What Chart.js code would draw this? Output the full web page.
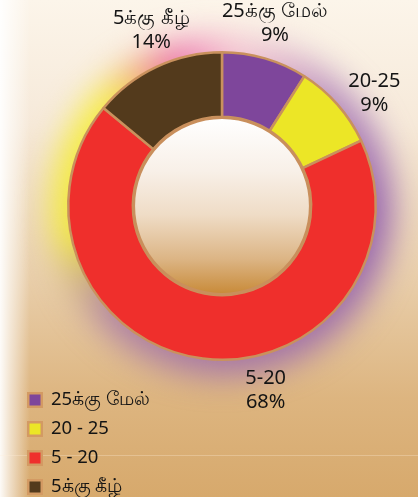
<!DOCTYPE html>
<html><head><meta charset="utf-8">
<script src="https://cdn.jsdelivr.net/npm/chart.js@4.4.1/dist/chart.umd.min.js"></script>
<style>html,body{margin:0;padding:0;background:#f3e2c9;overflow:hidden}#wrap{width:418px;height:497px;position:relative}</style>
</head><body><div id="wrap"><canvas id="c" width="418" height="497"></canvas></div>
<script>
const legendLabels = ['25க்கு மேல்', '20 - 25', '5 - 20', '5க்கு கீழ்'];
const sliceNames = ['25க்கு மேல்', '20-25', '5-20', '5க்கு கீழ்'];
const percentages = [9, 9, 68, 14];
const sliceColors = ['#7e469b', '#ece626', '#ef2f2c', '#533a1c'];

const FONT = '"Noto Sans", "Lato", sans-serif';
const labelShiftDeg = [0, 4.8, -20.5, 3.3];

const bgPlugin = {
  id: 'bg',
  beforeDraw(chart) {
    const ctx = chart.ctx, w = chart.width, h = chart.height;
    ctx.save();
    const g = ctx.createLinearGradient(0, 0, 0, h);
    g.addColorStop(0, '#fcf5ea');
    g.addColorStop(0.25, '#f6e9d9');
    g.addColorStop(0.55, '#e9cfac');
    g.addColorStop(0.8, '#ddb580');
    g.addColorStop(1, '#d7a96c');
    ctx.fillStyle = g;
    ctx.fillRect(0, 0, w, h);
    const g2 = ctx.createLinearGradient(0, 0, 30, 0);
    g2.addColorStop(0, 'rgba(255,255,255,0.95)');
    g2.addColorStop(0.35, 'rgba(255,255,255,0.6)');
    g2.addColorStop(1, 'rgba(255,255,255,0)');
    ctx.fillStyle = g2;
    ctx.fillRect(0, 0, 30, h);
    ctx.fillStyle = 'rgba(255,240,220,0.3)';
    ctx.fillRect(0, 455, w, 1);
    ctx.restore();
  }
};

const glowPlugin = {
  id: 'glow',
  beforeDatasetsDraw(chart) {
    const arc = chart.getDatasetMeta(0).data[0];
    if (!arc) return;
    const { x, y, outerRadius } = arc.getProps(['x', 'y', 'outerRadius'], true);
    const ctx = chart.ctx;
    ctx.save();
    ctx.filter = 'blur(16px)';
    const cg = ctx.createConicGradient(0, x, y);
    cg.addColorStop(0, 'rgba(150,100,175,1)');
    cg.addColorStop(0.25, 'rgba(155,105,170,0.85)');
    cg.addColorStop(0.38, 'rgba(160,110,165,0.75)');
    cg.addColorStop(0.47, 'rgba(242,234,60,1)');
    cg.addColorStop(0.62, 'rgba(246,236,70,1)');
    cg.addColorStop(0.70, 'rgba(235,110,170,1)');
    cg.addColorStop(0.77, 'rgba(240,170,200,0.55)');
    cg.addColorStop(0.87, 'rgba(165,115,180,0.75)');
    cg.addColorStop(1, 'rgba(150,100,175,1)');
    ctx.fillStyle = cg;
    ctx.beginPath();
    ctx.arc(x, y, outerRadius + 16, 0, Math.PI * 2);
    ctx.fill();
    ctx.restore();
  }
};

const centerPlugin = {
  id: 'center',
  afterDatasetsDraw(chart) {
    const arc = chart.getDatasetMeta(0).data[0];
    if (!arc) return;
    const { x, y, innerRadius } = arc.getProps(['x', 'y', 'innerRadius'], true);
    const ctx = chart.ctx;
    ctx.save();
    const r = innerRadius - 1;
    const g = ctx.createLinearGradient(0, y - r, 0, y + r);
    g.addColorStop(0, '#ffffff');
    g.addColorStop(0.3, '#f8f0e8');
    g.addColorStop(0.55, '#efdcc6');
    g.addColorStop(0.8, '#dcb585');
    g.addColorStop(1, '#c88a38');
    ctx.fillStyle = g;
    ctx.beginPath();
    ctx.arc(x, y, r, 0, Math.PI * 2);
    ctx.fill();
    ctx.lineWidth = 2.5;
    ctx.strokeStyle = '#c98f5c';
    ctx.stroke();
    ctx.restore();
  }
};

const sliceLabelPlugin = {
  id: 'sliceLabels',
  afterDatasetsDraw(chart) {
    const ctx = chart.ctx;
    const meta = chart.getDatasetMeta(0);
    ctx.save();
    ctx.fillStyle = '#141414';
    ctx.font = '20px ' + FONT;
    ctx.textAlign = 'center';
    ctx.textBaseline = 'middle';
    meta.data.forEach((el, i) => {
      const p = el.getProps(['x', 'y', 'startAngle', 'endAngle', 'outerRadius'], true);
      const a = (p.startAngle + p.endAngle) / 2 + labelShiftDeg[i] * Math.PI / 180;
      const r = p.outerRadius + 36;
      const lx = p.x + r * Math.cos(a), ly = p.y + r * Math.sin(a);
      ctx.fillText(sliceNames[i], lx, ly - 12);
      ctx.fillText(percentages[i] + '%', lx, ly + 12);
    });
    ctx.restore();
  }
};

const legendPlugin = {
  id: 'customLegend',
  afterDraw(chart) {
    const ctx = chart.ctx;
    ctx.save();
    const x0 = 27, y0 = 400, step = 29;
    ctx.font = '18.5px ' + FONT;
    ctx.textBaseline = 'middle';
    ctx.textAlign = 'left';
    legendLabels.forEach((lab, i) => {
      const cy = y0 + i * step;
      ctx.fillStyle = '#d39a63';
      ctx.fillRect(x0, cy - 8, 16, 16);
      ctx.fillStyle = sliceColors[i];
      ctx.fillRect(x0 + 2.5, cy - 5.5, 11, 11);
      ctx.fillStyle = '#141414';
      ctx.fillText(lab, x0 + 24, cy);
    });
    ctx.restore();
  }
};

new Chart(document.getElementById('c'), {
  type: 'doughnut',
  data: {
    labels: legendLabels,
    datasets: [{
      data: percentages,
      backgroundColor: sliceColors,
      borderColor: '#c9915d',
      borderWidth: 2.5,
      hoverOffset: 0
    }]
  },
  options: {
    responsive: false,
    animation: false,
    cutout: '58%',
    layout: { padding: { left: 67, right: 41, top: 51, bottom: 136 } },
    plugins: { legend: { display: false }, tooltip: { enabled: false } }
  },
  plugins: [bgPlugin, glowPlugin, centerPlugin, sliceLabelPlugin, legendPlugin]
});
</script></body></html>
